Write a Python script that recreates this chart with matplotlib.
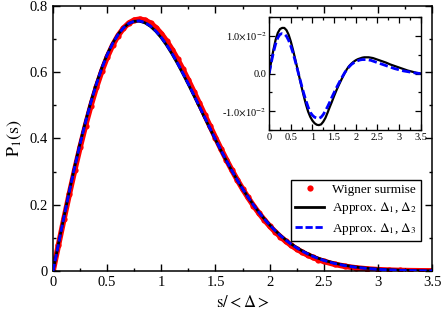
import numpy as np
import matplotlib
matplotlib.use("Agg")
import matplotlib.pyplot as plt
from matplotlib.ticker import MultipleLocator

plt.rcParams['font.family'] = ['Liberation Serif', 'DejaVu Serif']
plt.rcParams['mathtext.fontset'] = 'stix'

# s grid
s = [0.0, 0.05, 0.1, 0.15, 0.2, 0.25, 0.3, 0.35, 0.4, 0.45,
     0.5, 0.55, 0.6, 0.65, 0.7, 0.75, 0.8, 0.85, 0.9, 0.95,
     1.0, 1.05, 1.1, 1.15, 1.2, 1.25, 1.3, 1.35, 1.4, 1.45,
     1.5, 1.55, 1.6, 1.65, 1.7, 1.75, 1.8, 1.85, 1.9, 1.95,
     2.0, 2.05, 2.1, 2.15, 2.2, 2.25, 2.3, 2.35, 2.4, 2.45,
     2.5, 2.6, 2.7, 2.8, 2.9, 3.0, 3.1, 3.2, 3.3, 3.4, 3.5]

# Wigner surmise (red dots)
wigner = [0.0, 0.0784, 0.1559, 0.2315, 0.3044, 0.3739, 0.4391, 0.4994, 0.5541, 0.6029,
          0.6454, 0.6812, 0.7104, 0.7327, 0.7483, 0.7574, 0.7602, 0.7570, 0.7483, 0.7345,
          0.7162, 0.6938, 0.6680, 0.6393, 0.6083, 0.5755, 0.5415, 0.5068, 0.4718, 0.4369,
          0.4025, 0.3689, 0.3365, 0.3055, 0.2759, 0.2480, 0.2220, 0.1976, 0.1752, 0.1546,
          0.1358, 0.1187, 0.1033, 0.0895, 0.0772, 0.0663, 0.0567, 0.0483, 0.0409, 0.0345,
          0.0290, 0.0202, 0.0138, 0.0093, 0.0062, 0.0040, 0.0026, 0.0016, 0.0010, 0.0006, 0.0004]

# deviation from Wigner (inset), approx. D1,D2 (black)
diff_12 = [0.0, 0.0034, 0.0064, 0.0090, 0.0108, 0.0118, 0.0121, 0.0121, 0.0115, 0.0103,
           0.0085, 0.0063, 0.0039, 0.0014, -0.0011, -0.0036, -0.0060, -0.0082, -0.0101, -0.0115,
           -0.0125, -0.0132, -0.0136, -0.0137, -0.0135, -0.0128, -0.0118, -0.0104, -0.0089, -0.0075,
           -0.0060, -0.0046, -0.0033, -0.0021, -0.0009, 0.0002, 0.0012, 0.0020, 0.0026, 0.0031,
           0.0035, 0.0038, 0.0040, 0.0042, 0.0043, 0.0043, 0.0043, 0.0042, 0.0041, 0.0039,
           0.0037, 0.0033, 0.0029, 0.0024, 0.0020, 0.0016, 0.0012, 0.0008, 0.0005, 0.0002, 0.0]

# deviation from Wigner (inset), approx. D1,D3 (blue dashed)
diff_13 = [0.0, 0.0030, 0.0057, 0.0079, 0.0095, 0.0104, 0.0106, 0.0105, 0.0099, 0.0088,
           0.0073, 0.0055, 0.0034, 0.0012, -0.0010, -0.0032, -0.0053, -0.0072, -0.0089, -0.0103,
           -0.0111, -0.0116, -0.0118, -0.0119, -0.0116, -0.0109, -0.0099, -0.0088, -0.0076, -0.0063,
           -0.0051, -0.0039, -0.0028, -0.0017, -0.0007, 0.0003, 0.0011, 0.0018, 0.0024, 0.0028,
           0.0032, 0.0034, 0.0036, 0.0037, 0.0037, 0.0037, 0.0036, 0.0035, 0.0033, 0.0031,
           0.0029, 0.0025, 0.0021, 0.0017, 0.0013, 0.0010, 0.0007, 0.0005, 0.0003, 0.0001, 0.0]

s = np.array(s)
wigner = np.array(wigner)
approx_12 = wigner + np.array(diff_12)
approx_13 = wigner + np.array(diff_13)

blue = '#0000ff'
red = '#ff0000'

fig = plt.figure(figsize=(4.42, 3.27), dpi=100)
ax = fig.add_axes([0.12, 0.1713, 0.8575, 0.8104])

ax.plot(s, wigner, color=red, lw=4.0, solid_capstyle='round', zorder=1)
ax.plot(s, wigner, 'o', color=red, ms=4.5, mec='none', zorder=1,
        label='Wigner surmise')
ax.plot(s, approx_12, color='black', lw=2.0, zorder=2,
        label=r'Approx. $\Delta_1$, $\Delta_2$')
ax.plot(s, approx_13, color=blue, lw=2.0, dashes=(2.6, 1.0), zorder=3,
        label=r'Approx. $\Delta_1$, $\Delta_3$')

ax.set_xlim(0, 3.5)
ax.set_ylim(0, 0.8)
ax.set_xticks([0, 0.5, 1, 1.5, 2, 2.5, 3, 3.5])
ax.set_xticklabels(['0', '0.5', '1', '1.5', '2', '2.5', '3', '3.5'])
ax.set_yticks([0, 0.2, 0.4, 0.6, 0.8])
ax.set_yticklabels(['0', '0.2', '0.4', '0.6', '0.8'])
ax.xaxis.set_minor_locator(MultipleLocator(0.25))
ax.yaxis.set_minor_locator(MultipleLocator(0.1))
ax.tick_params(which='both', direction='in', top=True, right=True, labelsize=10.5, width=1.0)
ax.tick_params(which='major', length=5)
ax.tick_params(which='minor', length=2.5)
for sp in ax.spines.values():
    sp.set_linewidth(1.1)
ax.set_xlabel(r'$\mathrm{s/<\Delta>}$', fontsize=12, labelpad=4)
ax.set_ylabel(r'$\mathrm{P_1(s)}$', fontsize=13, labelpad=4)

leg = ax.legend(loc='upper left', bbox_to_anchor=(0.628, 0.345), fontsize=9.5,
                frameon=True, fancybox=False, edgecolor='black', framealpha=1,
                handlelength=2.2, handletextpad=0.6, borderpad=0.3, labelspacing=0.35,
                borderaxespad=0, numpoints=1)
leg.get_frame().set_linewidth(1.0)

# inset with differences
ins = fig.add_axes([0.609, 0.6024, 0.3425, 0.3456])
ins.plot(s, diff_12, color='black', lw=1.6)
ins.plot(s, diff_13, color=blue, lw=2.0, dashes=(3.0, 1.2))
ins.set_xlim(0, 3.5)
ins.set_ylim(-0.015, 0.015)
ins.set_xticks([0, 0.5, 1, 1.5, 2, 2.5, 3, 3.5])
ins.set_xticklabels(['0', '0.5', '1', '1.5', '2', '2.5', '3', '3.5'])
ins.set_yticks([-0.01, 0.0, 0.01])
ins.set_yticklabels([r'-1.0$\times$10$^{\mathrm{-2}}$', '0.0', r'1.0$\times$10$^{\mathrm{-2}}$'])
ins.xaxis.set_minor_locator(MultipleLocator(0.25))
ins.yaxis.set_minor_locator(MultipleLocator(0.005))
ins.tick_params(which='both', direction='in', top=True, right=True, labelsize=7.5, width=0.9, pad=2)
ins.tick_params(which='major', length=4)
ins.tick_params(which='minor', length=2)
for sp in ins.spines.values():
    sp.set_linewidth(1.0)

fig.savefig('out.png', dpi=100)
